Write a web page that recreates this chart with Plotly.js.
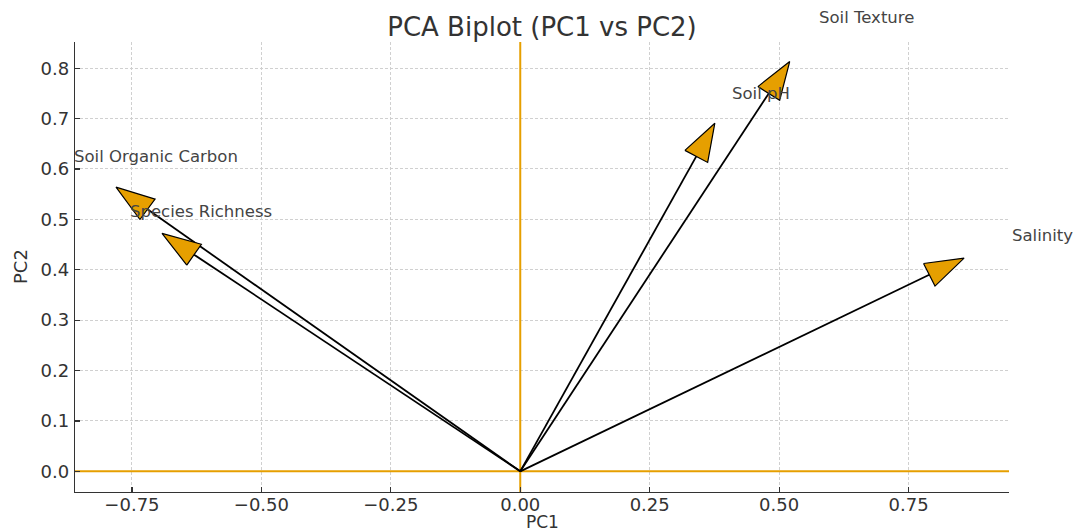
<!DOCTYPE html>
<html><head><meta charset="utf-8">
<script src="https://cdn.plot.ly/plotly-3.0.1.min.js"></script>
<style>html,body{margin:0;padding:0;background:#fff}</style>
</head><body><div id="chart" style="width:1073px;height:531px"></div>
<script>
// Data (PCA loadings)
const variables = ["Soil Organic Carbon", "Species Richness", "Soil pH", "Soil Texture", "Salinity"];
const pc1Loadings = [-0.72, -0.63, 0.34, 0.48, 0.79];
const pc2Loadings = [0.52, 0.43, 0.625, 0.75, 0.39];
const xTickVals = [-0.75, -0.5, -0.25, 0, 0.25, 0.5, 0.75];
const xTickText = ["\u22120.75", "\u22120.50", "\u22120.25", "0.00", "0.25", "0.50", "0.75"];
const yTickVals = [0, 0.1, 0.2, 0.3, 0.4, 0.5, 0.6, 0.7, 0.8];
const yTickText = ["0.0", "0.1", "0.2", "0.3", "0.4", "0.5", "0.6", "0.7", "0.8"];
const xRange = [-0.86, 0.944];
const yRange = [-0.041, 0.852];

// Styling / geometry constants
const HEAD_W = 0.05, HEAD_L = 0.075, LABEL_SCALE = 1.2;
const ORANGE = "#E69F00";
const FONT = "DejaVu Sans, Verdana, sans-serif";

const toPaperX = v => (v - xRange[0]) / (xRange[1] - xRange[0]);
const toPaperY = v => (v - yRange[0]) / (yRange[1] - yRange[0]);

const traces = [];
traces.push({type: "scatter", mode: "lines", x: xRange, y: [0, 0],
  line: {color: ORANGE, width: 2}, hoverinfo: "skip", showlegend: false});
traces.push({type: "scatter", mode: "lines", x: [0, 0], y: yRange,
  line: {color: ORANGE, width: 2}, hoverinfo: "skip", showlegend: false});

variables.forEach((name, i) => {
  const x = pc1Loadings[i], y = pc2Loadings[i];
  const len = Math.hypot(x, y);
  const ux = x / len, uy = y / len;
  const nx = -uy, ny = ux;
  traces.push({type: "scatter", mode: "lines", x: [0, x], y: [0, y],
    line: {color: "#000", width: 1.8}, hoverinfo: "skip", showlegend: false});
  const tipX = x + HEAD_L * ux, tipY = y + HEAD_L * uy;
  traces.push({type: "scatter", mode: "lines", fill: "toself", fillcolor: ORANGE,
    x: [x + HEAD_W / 2 * nx, tipX, x - HEAD_W / 2 * nx, x + HEAD_W / 2 * nx],
    y: [y + HEAD_W / 2 * ny, tipY, y - HEAD_W / 2 * ny, y + HEAD_W / 2 * ny],
    line: {color: "#000", width: 1.2}, hoverinfo: "skip", showlegend: false});
});

const annotations = variables.map((name, i) => ({
  x: toPaperX(pc1Loadings[i] * LABEL_SCALE), y: toPaperY(pc2Loadings[i] * LABEL_SCALE),
  xref: "paper", yref: "paper", text: name, showarrow: false,
  xanchor: "left", yanchor: "middle", borderpad: 0,
  font: {family: FONT, size: 16.5, color: "#444"}
}));
annotations.push({x: 0.5, y: 0, xref: "paper", yref: "paper", text: "PC1", showarrow: false,
  xanchor: "center", yanchor: "middle", yshift: -30, borderpad: 0,
  font: {family: FONT, size: 17, color: "#333"}});
annotations.push({x: 0, y: 0.5, xref: "paper", yref: "paper", text: "PC2", showarrow: false,
  xanchor: "center", yanchor: "middle", xshift: -55, textangle: -90, borderpad: 0,
  font: {family: FONT, size: 18, color: "#333"}});

const gridStyle = {showgrid: true, gridcolor: "#d0d0d0", gridwidth: 1, griddash: "3px,2px"};
const layout = {
  width: 1073, height: 531,
  margin: {l: 75, r: 64, t: 42, b: 39},
  paper_bgcolor: "#fff", plot_bgcolor: "#fff",
  title: {text: "PCA Biplot (PC1 vs PC2)", x: 0.5, xanchor: "center", y: 0.95, yanchor: "middle",
    xref: "paper", font: {family: FONT, size: 26, color: "#333"}},
  xaxis: Object.assign({range: xRange, tickvals: xTickVals, ticktext: xTickText,
    showline: true, linecolor: "#333", linewidth: 1.3, mirror: false,
    ticks: "inside", ticklen: 5, tickwidth: 1.2, tickcolor: "#333", ticklabelstandoff: -4,
    zeroline: false, tickfont: {family: FONT, size: 18, color: "#333"}}, gridStyle),
  yaxis: Object.assign({range: yRange, tickvals: yTickVals, ticktext: yTickText,
    showline: true, linecolor: "#333", linewidth: 1.3, mirror: false,
    ticks: "inside", ticklen: 5, tickwidth: 1.2, tickcolor: "#333", ticklabelstandoff: 1,
    zeroline: false, tickfont: {family: FONT, size: 18, color: "#333"}}, gridStyle),
  annotations: annotations,
  showlegend: false
};

Plotly.newPlot("chart", traces, layout, {displayModeBar: false, staticPlot: true});
</script>
</body></html>
